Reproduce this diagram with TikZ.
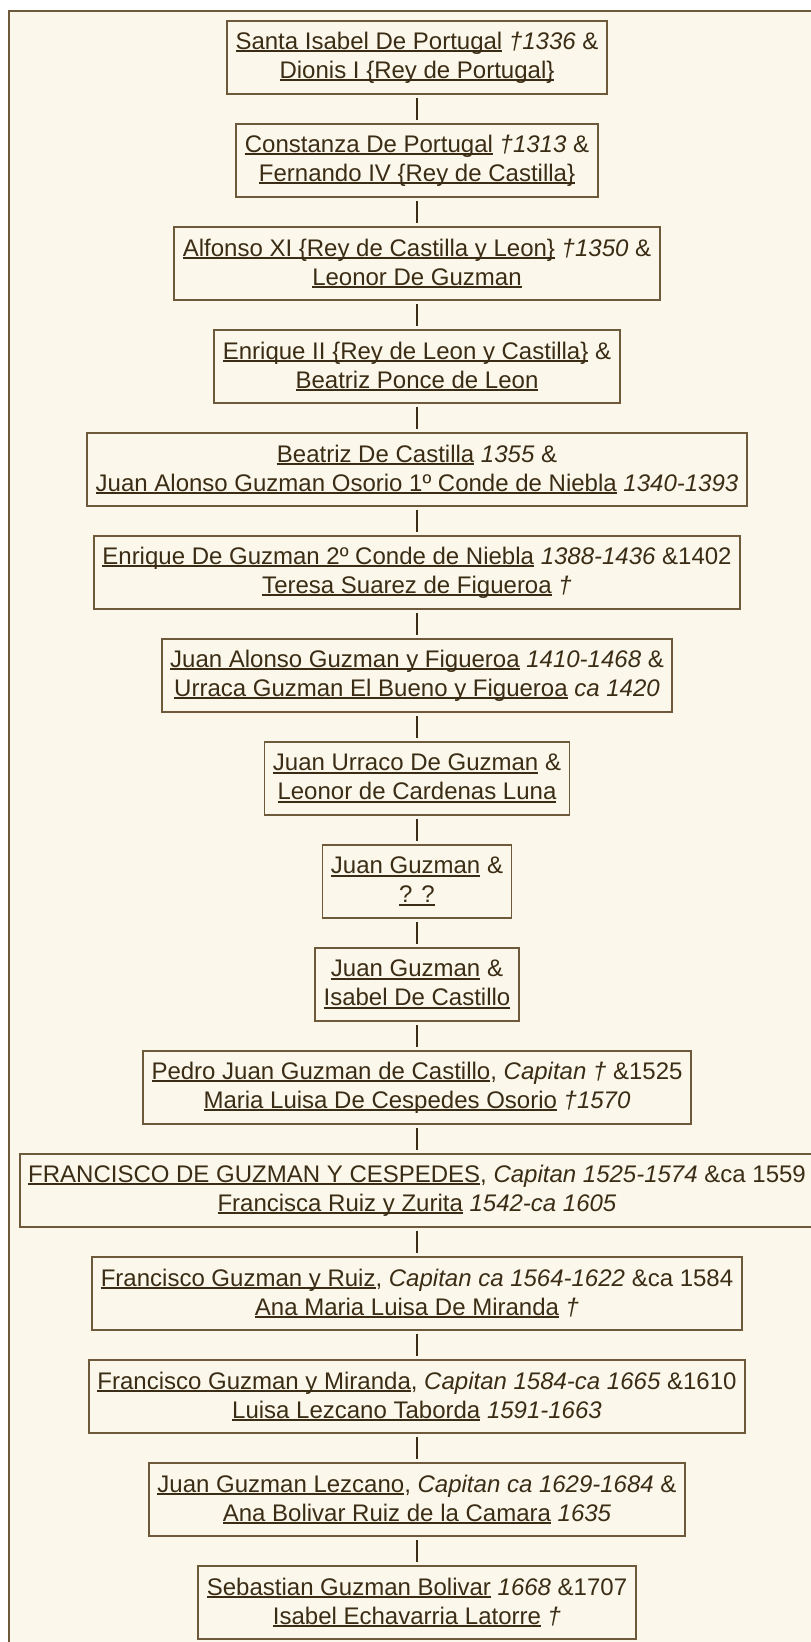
\documentclass[tikz,border=0pt]{standalone}
\usepackage{fontspec}
\setmainfont{Liberation Sans}
\usetikzlibrary{positioning}

\definecolor{parch}{HTML}{FBF7EA}
\definecolor{bark}{HTML}{6E5A3A}
\definecolor{ink}{HTML}{3B2D15}

% Nombre subrayado.
\newsavebox{\nmbox}
\newcommand{\nm}[1]{\sbox{\nmbox}{#1}\rlap{\rule[-2.8pt]{\wd\nmbox}{1.9pt}}\usebox{\nmbox}}

\tikzset{
    person/.style={draw=bark, line width=1.8pt, fill=parch, text=ink,
        align=center, inner xsep=8.5pt, minimum height=72.5pt, outer sep=0pt,
        font=\fontsize{24}{29}\selectfont},
    link/.style={draw=ink, line width=1.4pt, shorten <=4.5pt, shorten >=4.5pt}
}

\begin{document}
\begin{tikzpicture}[x=1pt,y=1pt, node distance=30.5pt]
        % Marco.
        \clip (0,0) rectangle (811,-1642);
        \fill[white] (0,0) rectangle (811,-1642);
        \draw[bark, line width=2pt, fill=parch] (8.5,-10.7) rectangle (830,-1660);

        % Generaciones.
        \node[person] (isabel) at (417,-57.5)
            {\nm{Santa Isabel De Portugal} \textit{†1336} \&\\
             \nm{Dionis I \{Rey de Portugal\}}};
        \node[person, below=of isabel] (constanza)
            {\nm{Constanza De Portugal} \textit{†1313} \&\\
             \nm{Fernando IV \{Rey de Castilla\}}};
        \node[person, below=of constanza] (alfonso)
            {\nm{Alfonso XI \{Rey de Castilla y Leon\}} \textit{†1350} \&\\
             \nm{Leonor De Guzman}};
        \node[person, below=of alfonso] (enrique)
            {\nm{Enrique II \{Rey de Leon y Castilla\}} \&\\
             \nm{Beatriz Ponce de Leon}};
        \node[person, below=of enrique] (beatriz)
            {\nm{Beatriz De Castilla} \textit{1355} \&\\
             \nm{Juan Alonso Guzman Osorio 1º Conde de Niebla} \textit{1340-1393}};
        \node[person, below=of beatriz] (enriqueg)
            {\nm{Enrique De Guzman 2º Conde de Niebla} \textit{1388-1436} \&1402\\
             \nm{Teresa Suarez de Figueroa} \textit{†}};
        \node[person, below=of enriqueg] (juanalonso)
            {\nm{Juan Alonso Guzman y Figueroa} \textit{1410-1468} \&\\
             \nm{Urraca Guzman El Bueno y Figueroa} \textit{ca 1420}};
        \node[person, below=of juanalonso] (urraco)
            {\nm{Juan Urraco De Guzman} \&\\
             \nm{Leonor de Cardenas Luna}};
        \node[person, below=of urraco] (juang)
            {\nm{Juan Guzman} \&\\
             \nm{? ?}};
        \node[person, below=of juang] (juangc)
            {\nm{Juan Guzman} \&\\
             \nm{Isabel De Castillo}};
        \node[person, below=of juangc] (pedro)
            {\nm{Pedro Juan Guzman de Castillo}, \textit{Capitan †} \&1525\\
             \nm{Maria Luisa De Cespedes Osorio} \textit{†1570}};
        \node[person, below=of pedro] (francisco)
            {\nm{FRANCISCO DE GUZMAN Y CESPEDES}, \textit{Capitan 1525-1574} \&ca 1559\\
             \nm{Francisca Ruiz y Zurita} \textit{1542-ca 1605}};
        \node[person, below=of francisco] (franruiz)
            {\nm{Francisco Guzman y Ruiz}, \textit{Capitan ca 1564-1622} \&ca 1584\\
             \nm{Ana Maria Luisa De Miranda} \textit{†}};
        \node[person, below=of franruiz] (franmiranda)
            {\nm{Francisco Guzman y Miranda}, \textit{Capitan 1584-ca 1665} \&1610\\
             \nm{Luisa Lezcano Taborda} \textit{1591-1663}};
        \node[person, below=of franmiranda] (juanlezcano)
            {\nm{Juan Guzman Lezcano}, \textit{Capitan ca 1629-1684} \&\\
             \nm{Ana Bolivar Ruiz de la Camara} \textit{1635}};
        \node[person, below=of juanlezcano] (sebastian)
            {\nm{Sebastian Guzman Bolivar} \textit{1668} \&1707\\
             \nm{Isabel Echavarria Latorre} \textit{†}};

        % Descendencia.
        \foreach \a/\b in {isabel/constanza, constanza/alfonso, alfonso/enrique,
                enrique/beatriz, beatriz/enriqueg, enriqueg/juanalonso,
                juanalonso/urraco, urraco/juang, juang/juangc, juangc/pedro,
                pedro/francisco, francisco/franruiz, franruiz/franmiranda,
                franmiranda/juanlezcano, juanlezcano/sebastian}
            \draw[link] (\a) -- (\b);
    \end{tikzpicture}
\end{document}
